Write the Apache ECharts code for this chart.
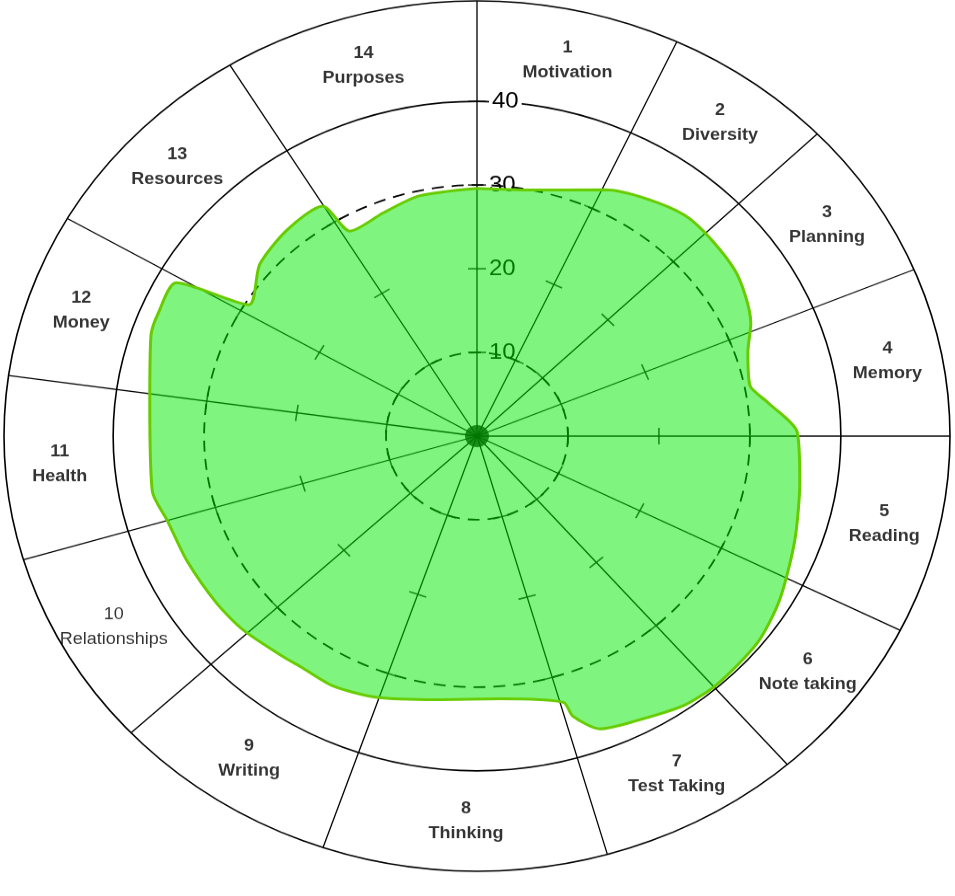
<!DOCTYPE html>
<html>
<head>
<meta charset="utf-8">
<title>Wheel</title>
<script src="https://cdn.jsdelivr.net/npm/echarts@6/dist/echarts.min.js"></script>
<style>
  html, body { margin: 0; padding: 0; background: #fff; overflow: hidden; }
  /* the original wheel is a little squashed vertically */
  #chart { width: 955px; height: 974px; transform: scaleY(0.92); transform-origin: 0 0; }
</style>
</head>
<body>
<div id="chart"></div>
<script>
const categories = ['Motivation', 'Diversity', 'Planning', 'Memory', 'Reading', 'Note taking', 'Test Taking',
  'Thinking', 'Writing', 'Relationships', 'Health', 'Money', 'Resources', 'Purposes']
// where each sector starts, degrees clockwise from the top
const sectorEdges = [0, 25, 46, 67.5, 90, 116.5, 139, 164, 199, 227, 253.5, 278, 300, 328.5]
const scaleTicks = [10, 20, 30, 40]
// the hand drawn score outline
const outlineAngles = [0, 11.4, 25.5, 40.9, 54.9, 65.8, 71.5, 78.6, 82.8, 89.2, 98.7, 109.7, 120.5, 128.7, 138.4,
  144.9, 153.3, 158.9, 162.5, 163.4, 175.4, 188, 199.4, 207.9, 215.2, 219, 228, 235.1, 245, 253.4, 259.5, 276.4,
  288.5, 292.8, 299, 302, 310.7, 319.8, 328.3, 330.3, 338.9, 347.5, 360]
const outlineScores = [29.6, 30.0, 32.6, 34.9, 34.6, 33.0, 31.4, 30.6, 32.2, 35.2, 35.9, 37.1, 38.6, 39.5, 39.7,
  39.4, 38.2, 37.5, 35.1, 33.2, 31.5, 31.8, 33.1, 33.8, 33.7, 33.9, 34.6, 34.9, 35.2, 35.5, 36.3, 36.2,
  37.8, 38.0, 37.8, 29.6, 31.5, 32.3, 32.3, 28.2, 28.6, 29.4, 29.6]

const center = [477, 474]
const radius = 473
const maxR = 52
const font = "'Liberation Sans', Arial, sans-serif"

const chart = echarts.init(document.getElementById('chart'))

const midAngle = i => (sectorEdges[i] + (i + 1 < sectorEdges.length ? sectorEdges[i + 1] : 360)) / 2

const tickMarks = []
sectorEdges.forEach(a => {
  const vals = a === 0 ? scaleTicks : scaleTicks.slice(0, 3)
  vals.forEach(v => tickMarks.push({ value: [v, a], symbolRotate: -a }))
})

const labelData = categories.map((name, i) => {
  const item = { value: [46, midAngle(i)], name: name, num: i + 1 }
  if (name === 'Relationships') item.label = { fontWeight: 'normal' }
  return item
})

chart.setOption({
  animation: false,
  polar: [
    { center: center, radius: radius },
    { center: center, radius: radius }
  ],
  angleAxis: [
    {
      polarIndex: 0,
      type: 'value',
      min: 0,
      max: 360,
      startAngle: 90,
      clockwise: true,
      axisLine: { lineStyle: { color: '#000', width: 1.6 } },
      axisTick: { show: false, customValues: sectorEdges },
      axisLabel: { show: false },
      splitLine: { show: true, lineStyle: { color: '#000', width: 1.3 } }
    },
    {
      polarIndex: 1,
      type: 'value',
      min: 0,
      max: 360,
      startAngle: 90,
      show: false
    }
  ],
  radiusAxis: [
    {
      polarIndex: 0,
      type: 'value',
      min: 0,
      max: maxR,
      axisLine: { show: false },
      axisTick: { show: false, customValues: [40] },
      axisLabel: {
        customValues: scaleTicks,
        margin: -12,
        align: 'left',
        formatter: v => (v === 40 ? '{w|' + v + '}' : '{n|' + v + '}'),
        rich: {
          w: { fontSize: 24, fontFamily: font, color: '#000', backgroundColor: '#fff', padding: [0, 3] },
          n: { fontSize: 24, fontFamily: font, color: '#000' }
        }
      },
      splitLine: { show: true, lineStyle: { color: '#000', width: 1.6 } }
    },
    {
      polarIndex: 1,
      type: 'value',
      min: 0,
      max: maxR,
      axisLine: { show: false },
      axisTick: { show: false, customValues: [10, 30] },
      axisLabel: { show: false },
      splitLine: { show: true, lineStyle: { color: '#000', width: 1.8, type: [12, 8] } }
    }
  ],
  series: [
    {
      name: 'ticks',
      type: 'scatter',
      coordinateSystem: 'polar',
      polarIndex: 0,
      z: 2,
      silent: true,
      symbol: 'rect',
      symbolSize: [18, 1.6],
      itemStyle: { color: '#000' },
      data: tickMarks
    },
    {
      name: 'hub',
      type: 'scatter',
      coordinateSystem: 'polar',
      polarIndex: 0,
      z: 2,
      silent: true,
      symbolSize: 24,
      itemStyle: { color: '#000' },
      data: [[0, 0]]
    },
    {
      name: 'score',
      type: 'line',
      coordinateSystem: 'polar',
      polarIndex: 0,
      z: 3,
      smooth: 0.25,
      symbol: 'none',
      lineStyle: { color: '#66cc00', width: 3 },
      areaStyle: { color: 'rgb(0,235,0)', opacity: 0.5 },
      data: outlineAngles.map((a, i) => [outlineScores[i], a])
    },
    {
      name: 'labels',
      type: 'scatter',
      coordinateSystem: 'polar',
      polarIndex: 0,
      z: 4,
      silent: true,
      symbolSize: 1,
      itemStyle: { color: 'rgba(0,0,0,0)' },
      label: {
        show: true,
        position: 'inside',
        formatter: p => p.data.num + '\n' + p.name,
        color: '#000',
        fontSize: 18,
        fontWeight: 'bold',
        lineHeight: 27,
        fontFamily: font
      },
      data: labelData
    }
  ]
})
</script>
</body>
</html>
